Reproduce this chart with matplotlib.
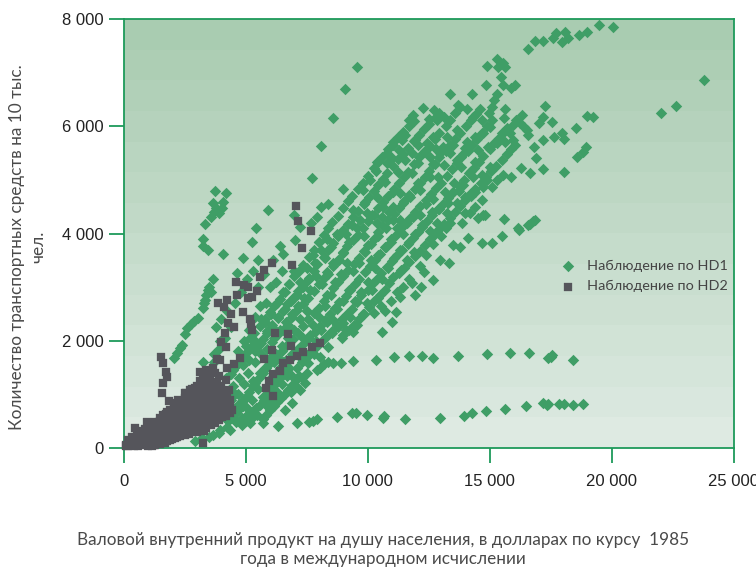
import numpy as np
import matplotlib
matplotlib.use("Agg")
import matplotlib.pyplot as plt

x_ticks = [0, 5000, 10000, 15000, 20000, 25000]
y_ticks = [0, 2000, 4000, 6000, 8000]
x_title = "Валовой внутренний продукт на душу населения, в долларах по курсу  1985\nгода в международном исчислении"
y_title = "Количество транспортных средств на 10 тыс.\nчел."
series_names = ["Наблюдение по HD1", "Наблюдение по HD2"]

hd1_top = [(16580,7440),(16860,7595),(17200,7590),(17600,7645),(17730,7740),(17970,7570),(18090,7760),(18220,7650),(18670,7700),(19000,7760),(19490,7890),(20060,7850),(23790,6860),(22640,6380),(22020,6250)]
hd1_low = [(6350,410),(7100,460),(7600,480),(7760,500),(7930,540),(8740,580),(9360,650),(9530,650),(9970,610),(10630,560),(10680,590),(11530,540),(12970,560),(13950,600),(14280,650),(14860,690),(15630,730),(16500,780),(17200,830),(17400,820),(17360,800),(17850,820),(18050,820),(18420,800),(18830,820)]
hd1_mid = [(8050,1500),(8200,1560),(8380,1600),(8590,1580),(8910,1590),(9400,1620),(10350,1640),(11080,1700),(11700,1715),(12230,1715),(12680,1680),(13710,1715),(14890,1750),(15840,1770),(16620,1770),(17400,1680),(17550,1735),(17500,1690),(18420,1640)]
hd1_left = [(3750,4790),(4200,4750),(3670,4570),(4080,4590),(4030,4470),(3910,4380),(3590,4310),(3340,4180),(3800,4480),(3700,4400),(3260,3900),(3260,3770),(3460,3690),(4080,3620),(4900,3540),(5920,4440),(5430,4100),(5270,3840),(4650,3260),(3670,3150),(3500,3000),(3380,2850),(3340,2760),(3260,2610),(3050,2420),(2900,2370),(2770,2310),(2620,2240),(2520,2130),(2400,1920),(2300,1860),(2190,1770),(2070,1680),(3260,1600),(3600,2900),(3450,2950),(3300,2700),
            (9570,7105),(9080,6695),(8590,6155),(8090,5630),(7730,5035),(7030,3880),(6550,3620),(6110,3500),(6400,3760),(7000,4340),(7250,4120),(7700,4200),(7950,4300),(8400,4550),(9000,4830),(8100,4500)]
hd1_upper = [(13380,6600),(14280,6600),(14860,6770),(14900,7120),(15310,7250),(15350,7105),(15560,7180),(15640,7105),(15470,6920),(15560,6770),(15880,6710),(16040,6770),(15310,6600),(15180,6490),(15100,6360),(14980,6250),
             (13710,6400),(14080,6320),(13130,6170),(12720,6300),(12270,6340),(11860,6210),(11700,6120),(12520,6140),(12850,6120),(14320,6170),(14690,6120),(15640,6320),(15600,6150),(17270,6380),(17200,6170),(17030,6060),(17560,6080),(19000,6190),(19240,6170),(18540,5970),(17970,5870),(18050,5760),(17640,5800),(17190,5740),(16820,5610),(16900,5410),(18950,5610),(18830,5520),(18590,5430),(17190,5200),(16660,5130),(16290,5220),(18050,5150),(15880,5050),(15560,5090),(15600,4270),(16780,4230),(16580,4160),(16170,4100),
             (16330,6210),(16250,6060),(15960,6020),(15720,5970),(15510,5870),(16540,5930),(16580,5840),(15960,5740),(15640,5710),(15310,5690),(14940,5610),(14530,5560),(15020,5990),(14730,5870),(14410,5800),(14080,5710),(14000,5590),(13670,5930),(13260,5800),(12680,5800),(12440,5690),(12070,5650),(11540,5840),(11410,5740),(11050,5650),(10800,5500),(10390,5340),(10350,5170),(10800,5310),(11250,5150),(11540,5370),(11820,5500),(12070,5310),(12560,5430),(12970,5500),(13380,5500),(13670,5370),(14080,5560),(14410,5340),
             (16100,6120),(15850,5880),(16400,5990),(15450,5760),(14200,5650),(13900,5480),(13500,5650),(13100,5620),(12800,5580),(11950,5750),(11300,5560),(11000,5400),(12300,5520),(12700,5300),(13150,5280),(13850,5240),(14250,5170)]
hd1_center = [(12070,4940),(12560,5050),(12890,5050),(12150,4810),(11820,5130),(11740,4680),(11460,4570),(11050,4770),(10720,4960),(10100,5000),(9810,4810),(9400,4440),(9900,4590),(10390,4680),(10640,4500),(11050,4500),(11330,4250),(11860,4310),(9970,4380),(10390,4200),
              (15020,5240),(14690,5090),(14320,5050),(14900,5000),(15310,5000),(13540,4940),(13180,4770),(13910,4900),(14730,4870),(15100,4870),(14690,4630),(14410,4500),(14000,4680),(13670,4570),(13300,4570),(13260,4380),(12640,4400),(12850,4200),(13380,4200),(13870,4200),(14200,4380),(14810,4350),(14530,4290),
              (16210,4070),(16660,4180),(16860,4250),(15510,3950),(15100,3820),(14690,3820),(14730,4350),(14120,3920),(13790,3750),(13500,3790),(13340,3450),(12970,3510),(12680,3130),(12320,3280),(11820,3080),(11370,3320),(11330,2820),(11170,2540),(11000,2350),(10590,2160),(10550,2650),(10260,2520),(9970,2700),(9400,2160),(8950,2050),(8540,2140),(8590,2390),(9000,2330),
              (14000,4380),(14250,4700),(13750,4800),(13450,4750),(14400,4780),(12950,4450),(12700,4650),(12400,4550),(12150,4350),(11600,4200),(11350,4750),(11050,4250),(10750,4100),(10450,3950),(10150,3800),(9850,3950),(9550,4100),(9250,3850),(9000,3650),(8750,4000),(8500,3750),(8250,3550),(8000,3850),(7750,3600),(7500,3350),(7250,3100),(7000,3300),(6800,3050),(6550,2900),(6300,2700),(6050,2500),(5800,2350),(5600,2650),(5400,2450),(5150,2200),(4950,2000),(4700,1800),
              (13000,3950),(12700,3800),(12400,3600),(12150,3400),(11900,3650),(11600,3500),(11350,3700),(11100,3550),(10850,3350),(10600,3150),(10300,3350),(10000,3100),(9750,2900),(9500,2750),(9250,2950),(9000,2750),(8750,2600),(8500,2850),(8250,2650),(8000,2450),(7750,2300),(7500,2550),(7250,2400),(7000,2200),(6750,2050),(6500,1900),(6250,1750),
              (12200,3000),(11950,2850),(11700,3150),(11450,3000),(11200,2900),(10950,2750),(10700,2550),(10450,2800),(10200,2950),(9800,2500),(9550,2300),(9300,2450),(9100,2200),(8800,2250),(8350,2350),(8100,2200),(7900,2000),(7650,2100),(7350,2050),(7150,1850),(6900,1750),(6650,1650),(6400,1500),(6150,1600),
              (13200,4100),(12550,4050),(12250,4150),(11950,4000),(11700,3850),(11450,4000),(11200,4100),(10950,3900),(10700,3750),(10450,3600),(10150,3500),(9900,3650),(9650,3450),(9400,3300),(9150,3450),(8900,3250),(8650,3100),(8400,3250),(8150,3050),(7900,3200),(7650,2950),(7400,2800),(7150,2650),(6900,2500),(6650,2350),(6400,2200),(6150,2050),(5900,2150),(5650,1950),(5400,1800),
              (10900,4400),(10600,4300),(10200,4350),(9700,4250),(9350,4150),(9100,4000),(8850,3500),(8600,3450),(8350,3900),(8100,3700),(7850,3450),(7600,3150),(7350,3000),(7100,2850),(6850,2750),(6600,2600),(6350,2450),(6100,2250),(5850,2700),(5650,2400),(5500,3000),(5750,3250),(6000,3000),(6250,3100),(6500,3300)]
hd1_lower = [(8380,1880),(8050,1700),(7930,1450),(7560,1580),(7440,1210),(7230,1080),(7800,1750),(7500,1400),(7300,1300),(7050,1150),(6850,1050),(6700,1350),(6500,1200),(6300,1050),(6050,900),(5850,800),(5700,950),(5500,1100),(5300,1250),(5100,1400),(4900,1550),(5250,900),(5050,750),(4850,850),(4700,1000),(4500,1150),(5480,620),(5250,560),(5050,620),(4850,560),(5720,460),(5180,460),(4860,430),(4360,340),(3950,340),(3670,240),(4600,480),(4400,560),(4700,700),(5600,1400),(5800,1500),(6050,1300),(6250,1400),(7100,1500),(6900,1350),(3900,280),(4250,400),(3500,200),(3200,180),(2950,130),(5400,1600),(5650,1750),(5150,1650),(4950,1200),(4750,1300),(6550,1600),(6050,1700),(7250,1700),(3700,1600),(3900,1850),(4150,2050),(4400,2250),(3800,2250),(4000,2400),(4250,2550),(4550,2700),(4800,2900),(5050,3150),(5300,3300),(5500,3500),(3900,900)]
hd1_track_a = [(5000,1900),(5350,2150),(5800,2400),(6150,2650),(6600,2900),(7000,3200),(7350,3420),(7800,3700),(8200,3980),(8550,4210),(9000,4480),(9350,4700),(9800,4950),(10250,5230),(10600,5420),(11050,5700),(11450,5900),(11900,6100)]
hd1_track_b = [(5500,1900),(5900,2180),(6350,2420),(6700,2680),(7150,2930),(7600,3170),(7950,3430),(8400,3690),(8800,3960),(9200,4170),(9600,4420),(10050,4680),(10450,4900),(10800,5120),(11250,5380),(11650,5600),(12100,5830),(12500,6050),(12950,6250)]
hd1_track_c = [(5900,1850),(6300,2100),(6750,2300),(7100,2570),(7550,2800),(8000,3050),(8350,3290),(8800,3510),(9150,3760),(9600,3980),(10000,4230),(10450,4470),(10850,4700),(11300,4950),(11650,5150),(12100,5420),(12550,5640),(12950,5880),(13400,6120),(13800,6350)]
hd1_track_d = [(6300,1700),(6700,1930),(7150,2150),(7550,2400),(8000,2620),(8350,2850),(8800,3100),(9200,3320),(9650,3550),(10000,3780),(10450,4030),(10850,4250),(11300,4480),(11700,4720),(12150,4950),(12500,5170),(12950,5420),(13400,5650),(13800,5880),(14250,6120),(14600,6330)]
hd1_track_e = [(6800,1650),(7200,1870),(7600,2050),(8050,2280),(8450,2500),(8850,2720),(9300,2950),(9650,3150),(10100,3400),(10500,3620),(10950,3850),(11350,4080),(11750,4280),(12150,4520),(12600,4740),(13000,4950),(13450,5200),(13850,5420),(14300,5650),(14700,5880),(15100,6120)]
hd1_track_f = [(7300,1600),(7700,1800),(8150,2000),(8550,2180),(8950,2400),(9350,2600),(9750,2850),(10200,3050),(10550,3270),(11000,3480),(11400,3700),(11850,3920),(12250,4120),(12650,4350),(13100,4550),(13500,4780),(13950,5000),(14350,5230),(14750,5450),(15200,5680),(15600,5900)]
hd1_track_g = [(9000,2100),(9450,2300),(9850,2500),(10250,2750),(10700,2950),(11050,3180),(11500,3350),(11950,3580),(12350,3780),(12750,4000),(13150,4180),(13600,4400),(14000,4620),(14400,4830),(14850,5050),(15250,5260),(15700,5480),(16050,5650)]
hd1_track_h = [(4200,1300),(4500,1450),(4800,1650),(5100,1800),(5400,2000),(4700,800),(5000,950),(5300,1150),(5550,1300),(5850,1500),(6100,1650),(5000,500),(5350,700),(5600,800),(5900,1000),(6200,1200),(6500,1350),(6800,1500),(5700,550),(6000,700),(6300,850),(6600,1000),(6900,1180),(7200,1350),(4300,500),(4600,650),(4900,780),(3900,650),(4400,900),(6600,700),(6900,830)]
hd1_track_a2 = [(5200,2050),(5600,2270),(6000,2540),(6400,2780),(6800,3060),(7200,3300),(7600,3560),(8000,3850),(8400,4100),(8800,4330),(9200,4600),(9600,4830),(10000,5080),(10450,5330),(10850,5580),(11250,5800),(11700,6010)]
hd1_track_b2 = [(5700,2040),(6100,2300),(6550,2550),(6950,2800),(7400,3050),(7800,3300),(8200,3560),(8600,3820),(9000,4060),(9400,4300),(9850,4550),(10250,4790),(10650,5010),(11050,5250),(11450,5490),(11900,5720),(12300,5940),(12750,6150)]
hd1_track_c2 = [(6100,1970),(6550,2200),(6900,2440),(7350,2680),(7800,2930),(8200,3170),(8600,3400),(9000,3640),(9400,3870),(9800,4100),(10250,4350),(10650,4590),(11100,4830),(11500,5050),(11900,5290),(12350,5530),(12750,5760),(13200,6000),(13600,6240)]
hd1_track_d2 = [(6500,1810),(6950,2040),(7350,2280),(7800,2510),(8200,2740),(8600,2980),(9000,3210),(9450,3440),(9850,3670),(10250,3900),(10650,4140),(11100,4360),(11500,4600),(11950,4830),(12350,5060),(12750,5300),(13200,5530),(13600,5770),(14050,6000),(14450,6220)]
hd1_track_e2 = [(7000,1760),(7400,1960),(7850,2170),(8250,2390),(8650,2610),(9100,2840),(9500,3050),(9900,3280),(10300,3510),(10750,3740),(11150,3970),(11550,4180),(11950,4400),(12400,4630),(12800,4850),(13250,5080),(13650,5310),(14100,5530),(14500,5770),(14900,6000)]
hd1_track_f2 = [(7500,1700),(7950,1900),(8350,2090),(8750,2290),(9150,2500),(9550,2730),(10000,2950),(10400,3160),(10800,3380),(11200,3590),(11650,3810),(12050,4020),(12450,4240),(12900,4450),(13300,4670),(13750,4890),(14150,5120),(14550,5340),(15000,5570),(15400,5790)]
hd1_track_g2 = [(9250,2200),(9650,2400),(10050,2630),(10500,2850),(10900,3070),(11300,3260),(11700,3470),(12150,3680),(12550,3890),(12950,4090),(13400,4290),(13800,4510),(14200,4730),(14650,4940),(15050,5160),(15500,5370),(15900,5570)]
hd1_track_h2 = [(4400,1380),(4650,1550),(4950,1720),(5250,1900),(4850,880),(5150,1050),(5400,1220),(5700,1400),(5950,1570),(5180,600),(5450,750),(5750,900),(6050,1100),(6350,1270),(6650,1430),(5850,620),(6150,780),(6450,930),(6750,1090),(7050,1260),(4450,580),(4750,720),(4150,570),(4550,1000),(3700,1750),(3950,2000)]

hd2_tracks = [(7060,4510),(7150,4240),(7680,4050),(7320,3730),(6910,3410),(6090,3450),(5760,3320),(5590,3190),(4610,3100),(4940,3040),(5100,3000),(5470,2930),(4650,2850),(5100,2800),(5270,2820),(4240,2760),(3870,2700),(4120,2630),(4400,2500),(4900,2540),(5180,2410),(4280,2330),(4530,2260),(5220,2310),(5270,2200),(4160,2140),(6210,2140),(6740,2120),(3990,1980),(4200,1890),(6860,1900),(7730,1890),(8050,1960),(7360,1790),(7100,1720),(6820,1640),(6540,1580),(6410,1440),(6140,1380),(6090,1830),(5760,1660),(5960,1250),(5840,1120),(6130,970),(4770,1680),(4530,1570),(4240,1490),(3830,1660),(3950,1650),(4200,1270),(4320,1080),(1540,1700),(1620,1580),(1740,1420),(1780,1320),(1620,1210),(1580,1030),(1860,880)]
hd2_blob = [(960,490),(470,370),(900,350),(550,320),(800,250),(300,100),(120,30),(250,60),(420,40),(600,30),(700,100),(850,60),(1000,40),(1150,30),(1300,50),(1500,80),(1700,100),(1900,150),(2100,180),(2300,230),(2500,250),(2700,270),(3000,290),(3260,90),(3300,320),(3600,420),(3900,520),(4200,600),(4440,710),(4360,890),(4100,1050),(3700,1200),(3300,1300),(3130,1420),(3670,1490),(3400,1450),(3250,1200),(3150,1050),(3500,1370),(3900,1350),(3250,1330),(2720,1080),(2950,1030),(2320,840),(2150,780),(1900,700),(2500,930),(2800,950),(3100,900),
            (1000,180),(1150,200),(1300,250),(1450,200),(1600,300),(1200,330),(1400,400),(1600,450),(1800,300),(2000,350),(2200,380),(2400,420),(2600,450),(2800,480),(3000,500),(3200,550),(1700,550),(1900,500),(2100,550),(2300,600),(2500,650),(2700,700),(2900,680),(3100,750),(1500,560),(1800,680),(2000,650),(2200,700),(2400,780),(2600,820),(2800,830),(3000,830),(3700,650),(3900,800),(4150,800),(3750,920),(3950,1000),(3550,1000),(3500,800),(3300,450),(3600,550),(3850,620),(4050,700),(3450,600),(2000,250),(2250,290),(2500,340),(2750,370),(3000,400),(1250,120),(1450,130),(1050,280),(2900,580),(3100,640),(3350,680),(2550,540),(2350,500),(2150,460),(1950,420),(1750,400),(3700,1050),(4000,1150),(3450,1150),(4250,950),
            (200,150),(350,200),(500,150),(650,220),(1000,120),(1100,90),(1350,170),(1550,180),(1750,200),(1950,260),(1650,380),(1850,590),(2050,740),(2250,530),(2450,560),(2650,580),(2850,400),(3100,470),(3250,640),(3400,530),(3550,670),(3800,730),(4000,880),(4200,720),(3300,1000),(3600,1120),(3850,1230),(3300,1150),(3500,1250),(3200,800),(3050,950),(2650,950),(2400,880),(2200,640),(2600,740),(2850,740),(1350,330),(1300,480),(1450,480),(1600,620),(1750,640),(2050,820),(2250,900),(2550,1020),(2800,1100),(3000,1150),(3150,1250)]
hd2_fill = [(100,60),(200,40),(350,60),(500,80),(650,120),(800,150),(950,90),(1100,140),(1250,60),(1400,90),(1600,120),(1800,130),(2000,170),(2200,210),(2400,270),(2600,300),(2850,310),(3100,350),(3400,380),(3750,470),(4050,580),(4350,650),
            (1250,260),(1400,300),(1550,380),(1700,320),(1850,370),(2050,310),(2150,330),(2350,330),(2550,380),(2700,420),(2900,450),(3150,420),(3450,460),(3700,580),(3950,680),(4150,650),(4350,780),(1500,330),(1650,500),(1800,450),(2000,480),(2200,470),(2350,560),(2500,470),(2700,520),(2950,540),(3200,490),(1900,580),(2100,630),(2300,680),(2450,720),(2700,640),(3000,600),(3200,700),(3400,800),(3650,780),(3850,850),(4100,930),(3300,880),(3000,720),(2800,620),(2550,850),(2350,820),(2150,830),(2650,880),(2900,900),(3100,1000),(3450,900),(3650,920),(3850,1100),(3550,1300),(3750,1400),(3350,1380),(2950,1120),(2700,1000),(2500,1030)]

top_colour = np.array([0xA9, 0xCC, 0xB1]) / 255
bottom_colour = np.array([0xDE, 0xEA, 0xE2]) / 255
green = "#3F9E66"
axis_green = "#1E9A5A"
grey = "#55555B"
text_grey = "#4A4A4A"

fig = plt.figure(figsize=(7.56, 5.67), dpi=100)
ax = fig.add_axes([123.5 / 756, 1 - 448 / 567, 610 / 756, 429 / 567])

levels = np.linspace(0, 1, 14)[:, None, None]
ramp = top_colour * (1 - levels) + bottom_colour * levels
ax.imshow(ramp, extent=(0, 1, 0, 1), transform=ax.transAxes, aspect="auto",
          interpolation="nearest", zorder=0)

hd1 = np.array(hd1_top + hd1_low + hd1_mid + hd1_left + hd1_upper + hd1_center + hd1_lower
               + hd1_track_a + hd1_track_b + hd1_track_c + hd1_track_d + hd1_track_e
               + hd1_track_f + hd1_track_g + hd1_track_h
               + hd1_track_a2 + hd1_track_b2 + hd1_track_c2 + hd1_track_d2 + hd1_track_e2
               + hd1_track_f2 + hd1_track_g2 + hd1_track_h2)
hd2 = np.array(hd2_tracks + hd2_blob + hd2_fill)
ax.scatter(hd1[:, 0], hd1[:, 1], marker="D", s=34, color=green, linewidths=0, zorder=2,
           label=series_names[0], clip_on=False)
ax.scatter(hd2[:, 0], hd2[:, 1], marker="s", s=40, color=grey, edgecolors=grey,
           linewidths=0.2, zorder=3, label=series_names[1], clip_on=False)

ax.set_xlim(0, 25000)
ax.set_ylim(0, 8000)
ax.set_xticks(x_ticks)
ax.set_yticks(y_ticks)
ax.set_xticklabels([f"{v:,}".replace(",", " ") for v in x_ticks], family="Liberation Sans", fontsize=12, color="#222222")
ax.set_yticklabels([f"{v:,}".replace(",", " ") for v in y_ticks], family="Liberation Sans", fontsize=12, color="#222222")
ax.tick_params(axis="x", length=11, width=1.3, color=axis_green, pad=7.5)
ax.tick_params(axis="y", length=11, width=1.3, color=axis_green, pad=3.5)
for spine in ax.spines.values():
    spine.set_color(axis_green)
    spine.set_linewidth(1.3)

leg = ax.legend(loc="upper left", bbox_to_anchor=(0.705, 0.438), frameon=False,
                prop={"family": "Lato", "size": 10.4}, labelspacing=0.55, handletextpad=0.35,
                borderaxespad=0, borderpad=0, labelcolor="#444444")

fig.text(383 / 756, 1 - 549.5 / 567, x_title, ha="center", va="center", family="Lato",
         fontsize=12.3, color=text_grey, linespacing=1.25)
fig.text(28 / 756, 1 - 247 / 567, y_title, ha="center", va="center", rotation=90, family="Lato",
         fontsize=12.4, color=text_grey, linespacing=1.4)

fig.savefig("out.png", dpi=100)
